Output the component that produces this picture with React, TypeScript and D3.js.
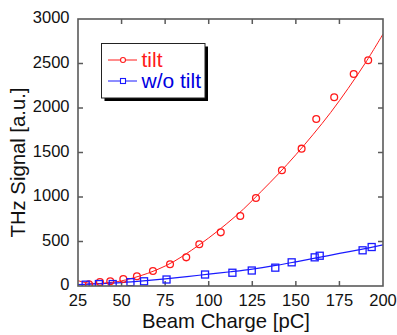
import React from "react";
import * as d3 from "d3";

const xTicks = [25, 50, 75, 100, 125, 150, 175, 200];
const yTicks = [0, 500, 1000, 1500, 2000, 2500, 3000];

const tiltX = [31.3, 37.6, 43.5, 51, 58.8, 68, 77.8, 87.1, 94.6, 106.9, 118.1, 127.1, 142, 153.3, 161.7, 172, 183.2, 191.5];
const tiltY = [19, 44, 53, 79, 109, 169, 244, 322, 469, 603, 787, 989, 1300, 1543, 1876, 2120, 2382, 2536];

const noTiltX = [29.4, 37, 44.9, 55.1, 62.9, 75.8, 97.9, 113.6, 124.7, 138.2, 147.6, 160.8, 163.7, 188.3, 193.5];
const noTiltY = [15, 22, 22, 43, 53, 73, 129, 149, 174, 206, 266, 322, 340, 401, 438];

const tiltFitX = [25, 30, 35, 40, 45, 50, 60, 70, 80, 90, 100, 110, 120, 130, 140, 150, 160, 170, 180, 190, 200];
const tiltFitY = [60, 35, 28, 32, 42, 58, 110, 180, 275, 400, 540, 695, 865, 1060, 1260, 1475, 1705, 1950, 2220, 2510, 2830];

const noTiltFitX = [25, 37.5, 50, 62.5, 75, 87.5, 100, 112.5, 125, 137.5, 150, 162.5, 175, 187.5, 200];
const noTiltFitY = [15, 25, 38, 57, 80, 105, 133, 160, 190, 228, 272, 318, 366, 412, 462];

const RED = "#ff1a1a";
const BLUE = "#1a1aff";
const FONT = "'Liberation Sans', Arial, sans-serif";

export default function App() {
  const L = 78, R = 383, T = 19, B = 286;
  const x = d3.scaleLinear().domain([25, 200]).range([L, R]);
  const y = d3.scaleLinear().domain([0, 3000]).range([B, T]);
  const line = d3
    .line<[number, number]>()
    .x((d) => x(d[0]))
    .y((d) => y(d[1]))
    .curve(d3.curveCatmullRom);
  const tiltFit = line(tiltFitX.map((v, i) => [v, tiltFitY[i]]) as [number, number][]) || "";
  const noTiltFit = line(noTiltFitX.map((v, i) => [v, noTiltFitY[i]]) as [number, number][]) || "";
  const axisColor = "#5a5a5a";
  const tl = 5;

  return (
    <svg
      width={397}
      height={335}
      style={{ position: "fixed", left: 0, top: 0, background: "#fff" }}
      fontFamily={FONT}
    >
      <rect x={0} y={0} width={397} height={335} fill="#fff" />
      <defs>
        <clipPath id="plot">
          <rect x={L} y={T} width={R - L} height={B - T} />
        </clipPath>
      </defs>
      {/* ticks */}
      {xTicks.slice(1, -1).map((t) => (
        <g key={"xt" + t} stroke={axisColor} strokeWidth={1.5}>
          <line x1={x(t)} x2={x(t)} y1={B} y2={B - tl} />
          <line x1={x(t)} x2={x(t)} y1={T} y2={T + tl} />
        </g>
      ))}
      {yTicks.slice(1, -1).map((t) => (
        <g key={"yt" + t} stroke={axisColor} strokeWidth={1.5}>
          <line x1={L} x2={L + tl} y1={y(t)} y2={y(t)} />
          <line x1={R} x2={R - tl} y1={y(t)} y2={y(t)} />
        </g>
      ))}
      {/* curves */}
      <g clipPath="url(#plot)">
        <path d={tiltFit} fill="none" stroke={RED} strokeWidth={1} />
        <path d={noTiltFit} fill="none" stroke={BLUE} strokeWidth={1.2} />
        {tiltX.map((v, i) => (
          <circle key={"c" + i} cx={x(v)} cy={y(tiltY[i])} r={3.4} fill="none" stroke={RED} strokeWidth={1.3} />
        ))}
        {noTiltX.map((v, i) => (
          <rect
            key={"s" + i}
            x={x(v) - 3.5}
            y={y(noTiltY[i]) - 3.5}
            width={7}
            height={7}
            fill="none"
            stroke={BLUE}
            strokeWidth={1.3}
          />
        ))}
      </g>
      {/* frame */}
      <rect x={L} y={T} width={R - L} height={B - T} fill="none" stroke={axisColor} strokeWidth={1.6} />
      {/* tick labels */}
      {xTicks.map((t) => (
        <text key={"xl" + t} x={x(t)} y={305.5} fontSize={16.5} textAnchor="middle" fill="#111">
          {t}
        </text>
      ))}
      {yTicks.map((t) => (
        <text key={"yl" + t} x={69.5} y={y(t) + 4} fontSize={16.5} textAnchor="end" fill="#111">
          {t}
        </text>
      ))}
      {/* axis titles */}
      <text x={226} y={328} fontSize={20.3} textAnchor="middle" fill="#111">
        Beam Charge [pC]
      </text>
      <text
        transform="translate(25,162.5) rotate(-90)"
        fontSize={20.3}
        textAnchor="middle"
        fill="#111"
      >
        THz Signal [a.u.]
      </text>
      {/* legend */}
      <rect x={104.5} y={46.5} width={103.5} height={54.5} fill="#000" />
      <rect x={101.5} y={43.5} width={103.5} height={54.5} fill="#fff" stroke="#222" strokeWidth={1} />
      <line x1={108} x2={137} y1={60} y2={60} stroke={RED} strokeWidth={1} />
      <circle cx={123} cy={60} r={2.5} fill="#fff" stroke={RED} strokeWidth={1.1} />
      <text x={141.5} y={66.7} fontSize={21} fill={RED}>
        tilt
      </text>
      <line x1={108} x2={137} y1={81} y2={81} stroke={BLUE} strokeWidth={1} />
      <rect x={120.5} y={78.5} width={5} height={5} fill="#fff" stroke={BLUE} strokeWidth={1.1} />
      <text x={141.5} y={88.3} fontSize={21} fill="#0000e0">
        w/o tilt
      </text>
    </svg>
  );
}
